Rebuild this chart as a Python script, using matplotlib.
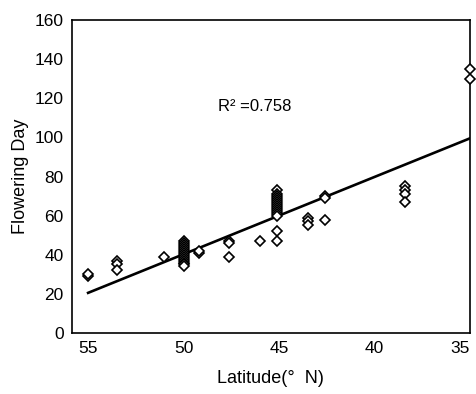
import matplotlib.pyplot as plt
from matplotlib.transforms import ScaledTranslation

plt.rcParams['font.family'] = ['Liberation Sans', 'DejaVu Sans']

# latitude (deg N) and flowering day for each observation
latitude = [55, 55,
            53.5, 53.5, 53.5,
            51,
            50, 50, 50, 50, 50, 50, 50, 50, 50, 50, 50, 50, 50, 50,
            49.2, 49.2,
            47.6, 47.6, 47.6,
            46,
            45.1, 45.1, 45.1, 45.1, 45.1, 45.1, 45.1, 45.1, 45.1, 45.1, 45.1, 45.1, 45.1,
            45.1, 45.1,
            43.5, 43.5, 43.5,
            42.6, 42.6, 42.6,
            38.4, 38.4, 38.4, 38.4,
            35, 35]
flowering_day = [29, 30,
                 37, 35, 32,
                 39,
                 47, 46, 45, 44, 43, 42, 41, 40, 39, 38, 37, 36, 35, 34,
                 41, 42,
                 47, 46, 39,
                 47,
                 73, 71, 70, 69, 68, 67, 66, 65, 64, 63, 62, 61, 60,
                 52, 47,
                 59, 57, 55,
                 70, 69, 58,
                 75, 73, 71, 67,
                 135, 130]

# regression line end points
fit_lat = [55, 35]
fit_day = [20.5, 99.5]
r2_text = 'R² =0.758'

fig = plt.figure(figsize=(4.76, 3.94), dpi=100)
ax = fig.add_axes([0.151, 0.155, 0.836, 0.794])

ax.plot(fit_lat, fit_day, color='black', lw=1.9, zorder=2)
ax.plot(latitude, flowering_day, 'D', ms=5, mfc='white', mec='black', mew=1.2,
        zorder=3, clip_on=False)

ax.text(48.2, 116, r2_text, fontsize=12, va='center', ha='left')

ax.set_xlim(55.85, 35)
ax.set_ylim(0, 160)
ax.set_xticks([55, 50, 45, 40, 35])
ax.set_yticks(range(0, 161, 20))
ax.tick_params(length=0, labelsize=12.5, pad=6)

# last x label sits just inside the right edge, as in the original
last = ax.get_xticklabels()[-1]
last.set_transform(last.get_transform() + ScaledTranslation(-0.1, 0, fig.dpi_scale_trans))

for s in ax.spines.values():
    s.set_linewidth(1.2)

ax.set_xlabel('Latitude(°  N)', fontsize=13, labelpad=10)
ax.set_ylabel('Flowering Day', fontsize=13, labelpad=4)

fig.savefig('out.png', dpi=100)
